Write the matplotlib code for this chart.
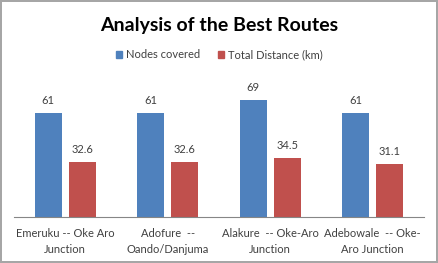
import numpy as np
import matplotlib.pyplot as plt
from matplotlib.patches import Patch

# data
routes = ['Emeruku -- Oke Aro\nJunction', 'Adofure  --\nOando/Danjuma',
          'Alakure  -- Oke-Aro\nJunction', 'Adebowale  -- Oke-\nAro Junction']
nodes_covered = [61, 61, 69, 61]
total_distance = [32.6, 32.6, 34.5, 31.1]

blue = '#4F81BD'
red = '#C0504D'
txt = '#404040'
plt.rcParams['font.family'] = ['Lato', 'DejaVu Sans']

fig = plt.figure(figsize=(4.38, 2.63), dpi=100)
fig.patch.set_edgecolor('#A6A6A6')
fig.patch.set_linewidth(1.5)
ax = fig.add_axes([14 / 438, 46 / 263, 410 / 438, 136 / 263])

x = np.arange(len(routes))
w = 0.265
b1 = ax.bar(x - 0.167, nodes_covered, w, color=blue)
b2 = ax.bar(x + 0.167, total_distance, w, color=red)

for bars in (b1, b2):
    for r in bars:
        v = r.get_height()
        ax.annotate(f'{v:g}', (r.get_x() + r.get_width() / 2, v), xytext=(0, 5),
                    textcoords='offset points', ha='center', va='bottom',
                    fontsize=8, color=txt)

ax.set_xlim(-0.5, len(routes) - 0.5)
ax.set_ylim(0, 80)
ax.set_yticks([])
ax.set_xticks(x)
ax.set_xticklabels(routes, fontsize=8, color=txt, linespacing=1.55)
ax.tick_params(axis='x', length=0, pad=8)
for s in ['top', 'right', 'left']:
    ax.spines[s].set_visible(False)
ax.spines['bottom'].set_color('#868686')

fig.text(0.5, 1 - 25 / 263, 'Analysis of the Best Routes', ha='center', va='center',
         fontsize=14, fontweight='bold', color='black')

handles = [Patch(color=blue, label='Nodes covered'),
           Patch(color=red, label='Total Distance (km)')]
fig.legend(handles=handles, loc='center', bbox_to_anchor=(0.5, 1 - 55 / 263), ncol=2,
           frameon=False, fontsize=8, handlelength=0.6, handleheight=0.6,
           handletextpad=0.3, columnspacing=1.6, labelcolor=txt)

fig.savefig('out.png', dpi=100)
